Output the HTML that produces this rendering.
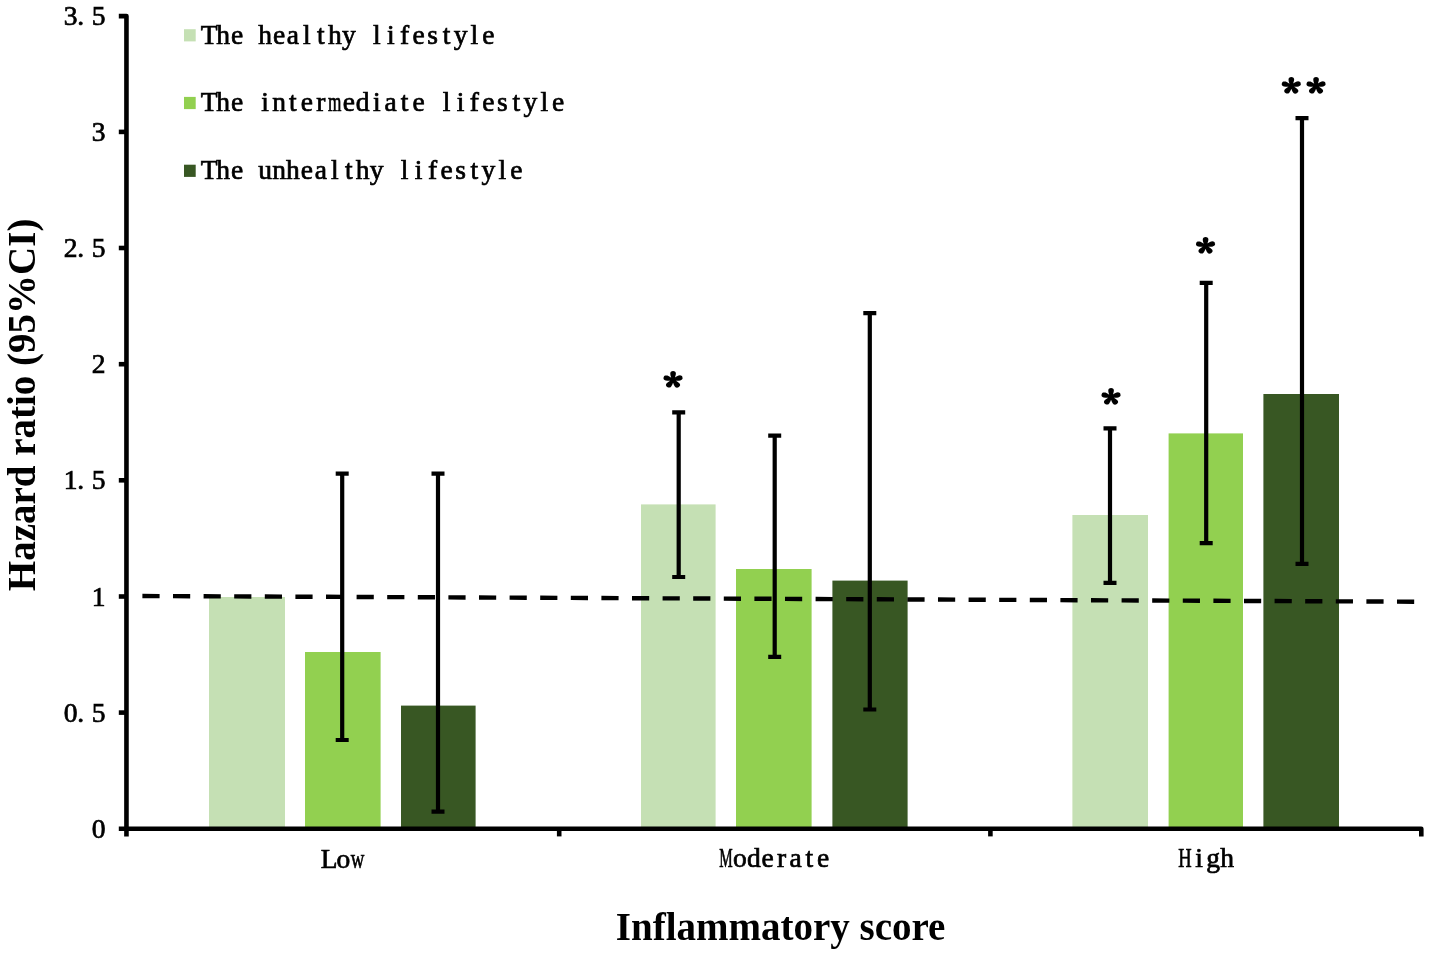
<!DOCTYPE html>
<html lang="en">
<head>
<meta charset="utf-8">
<title>Hazard ratio by inflammatory score and lifestyle</title>
<style>
html,body{margin:0;padding:0;background:#fff;}
body{width:1430px;height:956px;overflow:hidden;}
svg{display:block;filter:blur(0.4px);}
.mono{font-family:"Liberation Serif","Times New Roman",serif;fill:#000;stroke:#000;stroke-width:0.7px;}
.star{font-family:"Noto Serif CJK SC","Liberation Serif",serif;font-weight:900;fill:#000;stroke:#000;stroke-width:1.5px;stroke-linejoin:round;text-anchor:middle;}
.title{font-family:"Liberation Serif","Times New Roman",serif;font-weight:bold;fill:#000;}
</style>
</head>
<body>
<svg width="1430" height="956" viewBox="0 0 1430 956">
<rect x="0" y="0" width="1430" height="956" fill="#ffffff"/>
<g id="bars">
<rect x="209.0" y="597.0" width="76.0" height="232.8" fill="#c5e0b4"/>
<rect x="305.0" y="652.0" width="75.6" height="177.8" fill="#92d050"/>
<rect x="401.0" y="705.6" width="74.6" height="124.2" fill="#385723"/>
<rect x="641.0" y="504.4" width="74.6" height="325.4" fill="#c5e0b4"/>
<rect x="736.0" y="569.0" width="75.6" height="260.8" fill="#92d050"/>
<rect x="832.4" y="580.6" width="75.2" height="249.2" fill="#385723"/>
<rect x="1072.4" y="515.0" width="75.6" height="314.8" fill="#c5e0b4"/>
<rect x="1168.6" y="433.4" width="74.4" height="396.4" fill="#92d050"/>
<rect x="1263.4" y="394.0" width="75.6" height="435.8" fill="#385723"/>
</g>
<line x1="142.4" y1="596.0" x2="1414.6" y2="601.7" stroke="#000" stroke-width="4.4" stroke-dasharray="17.2 13.4"/>
<g id="axes" stroke="#000" stroke-width="4.6" fill="none" stroke-linejoin="round">
<path d="M118.8 16.1 H126.45 V836.4"/>
<path d="M118.8 828.8 H1421.3 V836.4"/>
<path d="M118.8 131.9 H126"/>
<path d="M118.8 248.0 H126"/>
<path d="M118.8 364.2 H126"/>
<path d="M118.8 480.3 H126"/>
<path d="M118.8 596.5 H126"/>
<path d="M118.8 712.6 H126"/>
<path d="M559.2 828.8 V836.4"/>
<path d="M990.4 828.8 V836.4"/>
</g>
<g id="errorbars" stroke="#000" stroke-width="4.2" fill="none">
<path d="M335.7 473.6 H348.7 M342.2 473.6 V740.0 M335.7 740.0 H348.7"/>
<path d="M431.5 473.6 H444.5 M438.0 473.6 V811.6 M431.5 811.6 H444.5"/>
<path d="M672.2 412.4 H685.2 M678.7 412.4 V577.0 M672.2 577.0 H685.2"/>
<path d="M768.2 435.6 H781.2 M774.7 435.6 V656.8 M768.2 656.8 H781.2"/>
<path d="M863.3 313.2 H876.3 M869.8 313.2 V709.5 M863.3 709.5 H876.3"/>
<path d="M1103.5 428.4 H1116.5 M1110.0 428.4 V582.8 M1103.5 582.8 H1116.5"/>
<path d="M1199.7 282.8 H1212.7 M1206.2 282.8 V543.2 M1199.7 543.2 H1212.7"/>
<path d="M1295.5 118.2 H1308.5 M1302.0 118.2 V563.8 M1295.5 563.8 H1308.5"/>
</g>
<g id="legend">
<rect x="184" y="29.2" width="11.7" height="12.2" fill="#c5e0b4"/>
<rect x="184" y="96.9" width="11.7" height="12.2" fill="#92d050"/>
<rect x="184" y="164.7" width="11.7" height="12.2" fill="#385723"/>
</g>
<g class="mono">
<text x="209.2 223.1 237.1 251.1 265.0 279.0 292.9 306.9 320.9 334.8 348.8 362.7 376.7 390.7 404.6 418.6 432.5 446.5 460.5 474.4 488.4" y="44" font-size="27.5" text-anchor="middle">The healthy lifestyle</text>
<text x="209.2 223.1 237.1 251.1 265.0 279.0 292.9 306.9 320.9 334.8 348.8 362.7 376.7 390.7 404.6 418.6 432.5 446.5 460.5 474.4 488.4 502.3 516.3 530.3 544.2 558.2" y="111.4" font-size="27.5" text-anchor="middle">The inter<tspan textLength="13.4" lengthAdjust="spacingAndGlyphs">m</tspan>ediate lifestyle</text>
<text x="209.2 223.1 237.1 251.1 265.0 279.0 292.9 306.9 320.9 334.8 348.8 362.7 376.7 390.7 404.6 418.6 432.5 446.5 460.5 474.4 488.4 502.3 516.3" y="179" font-size="27.5" text-anchor="middle">The unhealthy lifestyle</text>
<text x="70.6 80.8 98.6" y="24.7" font-size="27.5" text-anchor="middle">3.5</text>
<text x="98.6" y="140.9" font-size="27.5" text-anchor="middle">3</text>
<text x="70.6 80.8 98.6" y="257.0" font-size="27.5" text-anchor="middle">2.5</text>
<text x="98.6" y="373.2" font-size="27.5" text-anchor="middle">2</text>
<text x="70.6 80.8 98.6" y="489.3" font-size="27.5" text-anchor="middle">1.5</text>
<text x="98.6" y="605.5" font-size="27.5" text-anchor="middle">1</text>
<text x="70.6 80.8 98.6" y="721.6" font-size="27.5" text-anchor="middle">0.5</text>
<text x="98.6" y="837.8" font-size="27.5" text-anchor="middle">0</text>
<text x="329.1 343.3 357.5" y="867.6" font-size="27.5" text-anchor="middle">Lo<tspan textLength="13.6" lengthAdjust="spacingAndGlyphs">w</tspan></text>
<text x="726.0 739.9 753.8 767.6 781.5 795.5 809.4 823.2" y="867.4" font-size="27.5" text-anchor="middle"><tspan textLength="13.4" lengthAdjust="spacingAndGlyphs">M</tspan>oderate</text>
<text x="1185.0 1199.0 1213.0 1227.0" y="867.4" font-size="27.5" text-anchor="middle"><tspan textLength="13.4" lengthAdjust="spacingAndGlyphs">H</tspan>igh</text>
</g>
<text class="title" x="615.8" y="940" font-size="39">Inflammatory score</text>
<text class="title" transform="translate(34.6,591.2) rotate(-90)" font-size="39">Hazard ratio (95%CI)</text>
<g class="star" font-size="34">
<text transform="translate(673,399.8) scale(1.12,1)" x="0" y="0">*</text>
<text transform="translate(1111,417.0) scale(1.12,1)" x="0" y="0">*</text>
<text transform="translate(1205.5,265.6) scale(1.12,1)" x="0" y="0">*</text>
<text transform="translate(1291.3,106.3) scale(1.12,1)" x="0 22.05" y="0">**</text>
</g>
</svg>
</body>
</html>
